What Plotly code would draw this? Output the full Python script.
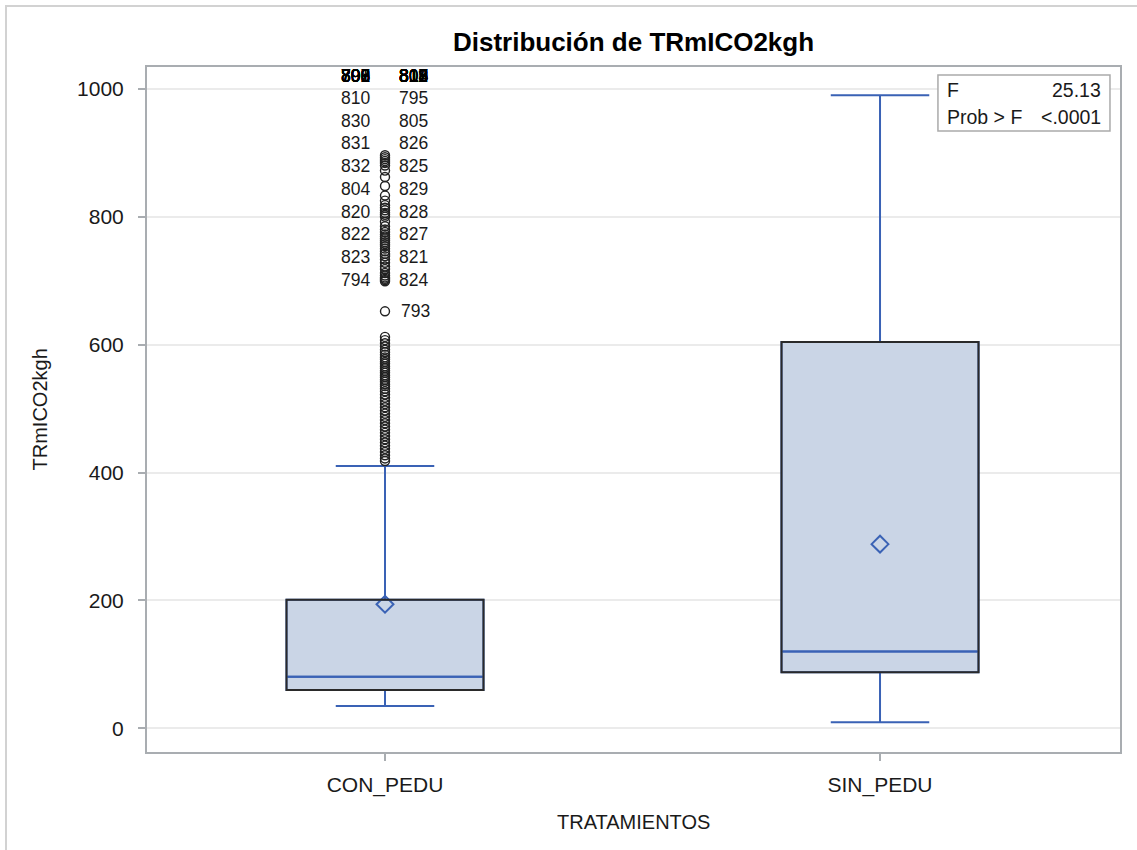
import plotly.graph_objects as go

# ---------------- data ----------------
categories = ["CON_PEDU", "SIN_PEDU"]
q1 = [60.0, 87.6]
median = [80.5, 120.0]
q3 = [201.0, 604.0]
lower_whisker = [35.0, 9.5]
upper_whisker = [410.0, 990.0]
means = [194.0, 288.0]

# outliers of CON_PEDU (SIN_PEDU has none)
outliers_con = [418, 422, 427, 432, 437, 442, 447, 452, 457, 462, 467, 472, 477,
                482, 487, 492, 497, 502, 507, 512, 517, 522, 527, 531, 535, 538,
                542, 545, 549, 552, 556, 559, 563, 566, 570, 573, 577, 580, 584,
                588, 592, 597, 602, 607, 612,
                652,
                699, 701, 703, 705, 708, 712, 718, 722, 728, 733, 738, 742, 746,
                750, 754, 757, 760, 763, 766, 769, 772, 776, 780, 785, 792, 800,
                803, 806, 810, 814, 818, 825, 833, 848, 862, 872, 880, 884, 887,
                890, 893, 896]

# observation labels (stacked by SAS label placement, bottom to top)
labels_left = ["794", "823", "822", "820", "804", "832", "831", "830", "810"]
labels_right = ["824", "821", "827", "828", "829", "825", "826", "805", "795"]
overflow_left = ["796", "797", "798", "799", "800", "801", "802", "803", "806"]
overflow_right = ["807", "808", "809", "811", "812", "813", "814", "815", "816",
                  "817", "818", "819"]
single_label = "793"
single_label_value = 652

f_value = "25.13"
p_value = "<.0001"

# ---------------- style ----------------
BLUE = "#3A62B5"
FILL = "#CAD5E6"
EDGE = "#2A2A2A"
AXIS = "#A9ADB1"
TXT = "#1A1A1A"
FONT = "Liberation Sans, Arial, sans-serif"
box_w = 0.398

fig = go.Figure()

for i, cat in enumerate(categories):
    fig.add_trace(go.Box(
        x=[i], q1=[q1[i]], median=[median[i]], q3=[q3[i]],
        lowerfence=[lower_whisker[i]], upperfence=[upper_whisker[i]],
        name=cat, width=box_w, whiskerwidth=0.5,
        fillcolor=FILL, line=dict(color=BLUE, width=2),
        boxpoints=False, showlegend=False, hoverinfo="skip"))
    # dark box outline drawn on top
    fig.add_shape(type="rect", xref="x", yref="y",
                  x0=i - box_w / 2, x1=i + box_w / 2, y0=q1[i], y1=q3[i],
                  line=dict(color=EDGE, width=2), fillcolor="rgba(0,0,0,0)",
                  layer="above")
    # redraw median on top of the outline
    fig.add_shape(type="line", xref="x", yref="y",
                  x0=i - box_w / 2 + 0.003, x1=i + box_w / 2 - 0.003,
                  y0=median[i], y1=median[i],
                  line=dict(color=BLUE, width=2), layer="above")

# outliers
fig.add_trace(go.Scatter(
    x=[0] * len(outliers_con), y=outliers_con, mode="markers",
    marker=dict(symbol="circle-open", size=9, color="#222222",
                line=dict(width=1.4)),
    showlegend=False, hoverinfo="y"))

# means
fig.add_trace(go.Scatter(
    x=list(range(len(categories))), y=means, mode="markers",
    marker=dict(symbol="diamond-open", size=13, color=BLUE,
                line=dict(width=2)),
    showlegend=False, hoverinfo="y"))

# outlier labels
base = 701.0
step = 35.6
LBL = 17.5
ann = []
for k, t in enumerate(labels_left):
    ann.append(dict(x=0, y=base + k * step, xref="x", yref="y", text=t,
                    showarrow=False, xanchor="right", xshift=-13,
                    font=dict(size=LBL, color=TXT, family=FONT)))
for k, t in enumerate(labels_right):
    ann.append(dict(x=0, y=base + k * step, xref="x", yref="y", text=t,
                    showarrow=False, xanchor="left", xshift=12,
                    font=dict(size=LBL, color=TXT, family=FONT)))
ytop = base + len(labels_left) * step - 2
for t in overflow_left:
    ann.append(dict(x=0, y=ytop, xref="x", yref="y", text=t,
                    showarrow=False, xanchor="right", xshift=-13,
                    font=dict(size=LBL, color="#000000", family=FONT)))
for t in overflow_right:
    ann.append(dict(x=0, y=ytop, xref="x", yref="y", text=t,
                    showarrow=False, xanchor="left", xshift=12,
                    font=dict(size=LBL, color="#000000", family=FONT)))
ann.append(dict(x=0, y=single_label_value, xref="x", yref="y", text=single_label,
                showarrow=False, xanchor="left", xshift=14,
                font=dict(size=LBL, color=TXT, family=FONT)))

# inset statistics table
INS = 19.5
ann += [
    dict(x=0.8201, y=0.9664, xref="paper", yref="paper", text="F",
         showarrow=False, xanchor="left", yanchor="middle",
         font=dict(size=INS, color=TXT, family=FONT)),
    dict(x=0.9825, y=0.9664, xref="paper", yref="paper", text=f_value,
         showarrow=False, xanchor="right", yanchor="middle",
         font=dict(size=INS, color=TXT, family=FONT)),
    dict(x=0.8201, y=0.927, xref="paper", yref="paper", text="Prob > F",
         showarrow=False, xanchor="left", yanchor="middle",
         font=dict(size=INS, color=TXT, family=FONT)),
    dict(x=0.9825, y=0.927, xref="paper", yref="paper", text=p_value,
         showarrow=False, xanchor="right", yanchor="middle",
         font=dict(size=INS, color=TXT, family=FONT)),
    # axis titles
    dict(x=-0.110, y=0.5, xref="paper", yref="paper", text="TRmICO2kgh",
         showarrow=False, textangle=-90, xanchor="center", yanchor="middle",
         font=dict(size=20, color=TXT, family=FONT)),
    dict(x=0.5, y=-0.102, xref="paper", yref="paper", text="TRATAMIENTOS",
         showarrow=False, xanchor="center", yanchor="middle",
         font=dict(size=20, color=TXT, family=FONT)),
]

fig.add_shape(type="rect", xref="paper", yref="paper",
              x0=0.8129, x1=0.9897, y0=0.9066, y1=0.9883,
              line=dict(color="#AAAAAA", width=1.5), fillcolor="white",
              layer="above")
# outer frame of the graph
fig.add_shape(type="rect", xref="paper", yref="paper",
              x0=-0.1449, x1=1.3, y0=-0.4, y1=1.0891,
              line=dict(color="#D2D2D2", width=2), fillcolor="rgba(0,0,0,0)")

fig.update_layout(
    width=1137, height=850,
    margin=dict(l=147, r=17, t=67, b=98),
    paper_bgcolor="white", plot_bgcolor="white",
    title=dict(text="<b>Distribución de TRmICO2kgh</b>", x=0.5, xref="paper",
               y=1 - 42 / 850, yanchor="middle", xanchor="center",
               font=dict(size=26, color="#000000", family=FONT)),
    font=dict(family=FONT, color=TXT),
    annotations=ann,
    xaxis=dict(range=[-0.4808, 1.4848], tickvals=[0, 1], ticktext=categories,
               showline=True, linecolor=AXIS, linewidth=2, mirror=True,
               ticks="outside", ticklen=7, tickcolor=AXIS, tickwidth=2,
               showgrid=False, zeroline=False, ticklabelstandoff=6,
               tickfont=dict(size=21, color=TXT, family=FONT)),
    yaxis=dict(range=[-37, 1034], tickvals=[0, 200, 400, 600, 800, 1000],
               showline=True, linecolor=AXIS, linewidth=2, mirror=True,
               ticks="outside", ticklen=7, tickcolor=AXIS, tickwidth=2,
               showgrid=True, gridcolor="#EBEBEB", gridwidth=2, zeroline=False,
               ticklabelstandoff=10,
               tickfont=dict(size=21, color=TXT, family=FONT)),
)

fig.write_html("out.html", config={"displayModeBar": False},
               post_script="document.body.style.margin='0';"
                           "document.body.style.overflow='hidden';")
